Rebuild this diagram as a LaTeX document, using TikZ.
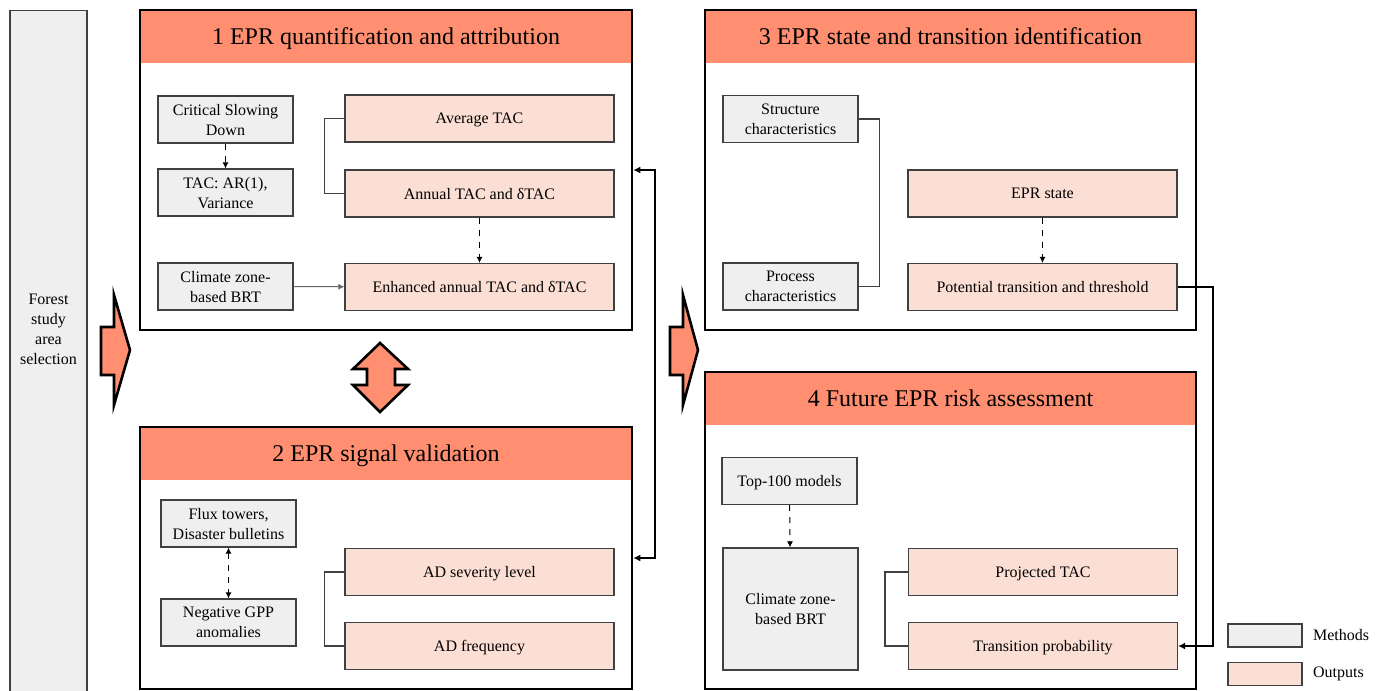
\documentclass[tikz,border=0pt]{standalone}
\usepackage{fontspec}
\setmainfont{Liberation Serif}
\usetikzlibrary{arrows.meta,calc,positioning}

\definecolor{bandsalmon}{RGB}{255,143,112}
\definecolor{outpink}{RGB}{252,223,212}
\definecolor{methgray}{RGB}{239,239,239}
\definecolor{boxline}{RGB}{64,64,64}

\tikzset{
  boxfont/.style={font=\fontsize{8}{10}\selectfont},
  method/.style={draw=boxline,fill=methgray,line width=0.6pt,align=center,boxfont,
    minimum width=67.5pt,minimum height=23.5pt,inner sep=1pt,text depth=0pt},
  outbox/.style={draw=boxline,fill=outpink,line width=0.6pt,align=center,boxfont,
    minimum width=134.5pt,minimum height=23.5pt,inner sep=1pt,text depth=0pt},
  band/.style={fill=bandsalmon,minimum width=245pt,minimum height=26.5pt,inner sep=0pt,
    text depth=0pt,font=\fontsize{12}{14}\selectfont},
  panel/.style={draw=black,line width=1.3pt},
  dasharrow/.style={draw=black,dashed,line width=0.5pt,-{Latex[length=3pt,width=3pt]}},
  thinarrow/.style={draw=black!60,line width=0.5pt,-{Latex[length=3pt,width=3pt]}},
  bracket/.style={draw=boxline,line width=0.7pt},
  linkarrow/.style={draw=black,line width=1pt,-{Latex[length=3.5pt,width=3.5pt]}},
  blockarrow/.style={fill=bandsalmon,draw=black,line width=1.3pt,line join=miter}
}

\begin{document}
\begin{tikzpicture}[x=0.5pt,y=-0.5pt]
  \clip (0,0) rectangle (1382,691);

  % left bar
  \node[draw=boxline,fill=methgray,line width=0.6pt,minimum width=38.5pt,
    minimum height=345pt,anchor=north] (bar) at (48.5,10) {};
  \node[align=center,boxfont] (forest) at (48.5,329) {Forest\\study\\area\\selection};

  % block arrows
  \draw[blockarrow] (101,327) -- (114,327) -- (114,295) -- (130,350) -- (114,405)
    -- (114,375) -- (101,375) -- cycle;
  \draw[blockarrow] (670,327) -- (683,327) -- (683,295) -- (698,350) -- (683,405)
    -- (683,375) -- (670,375) -- cycle;
  \draw[blockarrow] (380,343) -- (408,369) -- (395,369) -- (395,385) -- (408,385)
    -- (380,412) -- (353,385) -- (367,385) -- (367,369) -- (353,369) -- cycle;

  % title bands
  \node[band] (t1) at (386,36.5) {1 EPR quantification and attribution};
  \node[band] (t2) at (386,453) {2 EPR signal validation};
  \node[band] (t3) at (950.5,36.5) {3 EPR state and transition identification};
  \node[band] (t4) at (950.5,398.5) {4 Future EPR risk assessment};

  % panels
  \node[panel,minimum width=246pt,minimum height=160pt] (p1) at (386,170) {};
  \node[panel,minimum width=246pt,minimum height=131pt] (p2) at (386,558) {};
  \node[panel,minimum width=245.5pt,minimum height=160pt] (p3) at (950.5,170) {};
  \node[panel,minimum width=245.5pt,minimum height=158.5pt] (p4) at (950.5,530.5) {};

  % 1 quantification and attribution
  \node[method] (csd) at (225.5,119.5) {Critical Slowing\\Down};
  \node[method] (tac) at (225.5,192.5) {TAC: AR(1),\\Variance};
  \node[method] (czb) at (225.5,286.5) {Climate zone-\\based BRT};
  \node[outbox] (avg) at (479.5,118.5) {Average TAC};
  \node[outbox] (annual) at (479.5,193.5) {Annual TAC and δTAC};
  \node[outbox] (enhanced) at (479.5,287) {Enhanced annual TAC and δTAC};
  \draw[dasharrow] (csd) -- (tac);
  \draw[dasharrow] (annual) -- (enhanced);
  \draw[thinarrow] (czb) -- (enhanced);
  \draw[bracket] (avg.west) -- ++(-20,0) |- (annual.west);

  % 2 signal validation
  \node[method] (flux) at (228.5,523.5) {Flux towers,\\Disaster bulletins};
  \node[method] (ngpp) at (228.5,622.5) {Negative GPP\\anomalies};
  \node[outbox] (ads) at (479.5,572) {AD severity level};
  \node[outbox] (adf) at (479.5,646) {AD frequency};
  \draw[dasharrow,{Latex[length=3pt,width=3pt]}-{Latex[length=3pt,width=3pt]}] (flux) -- (ngpp);
  \draw[bracket] (ads.west) -- ++(-20,0) |- (adf.west);

  % 3 state and transition
  \node[method] (struct) at (790.5,119) {Structure\\characteristics};
  \node[method] (process) at (790.5,286.5) {Process\\characteristics};
  \node[outbox] (eprs) at (1042.5,193.5) {EPR state};
  \node[outbox] (potential) at (1042.5,287) {Potential transition and threshold};
  \draw[bracket] (struct.east) -- ++(21,0) |- (process.east);
  \draw[dasharrow] (eprs) -- (potential);

  % 4 future risk
  \node[method] (top100) at (789.5,481) {Top-100 models};
  \node[method,minimum height=61pt] (czb2) at (790.5,609) {Climate zone-\\based BRT};
  \node[outbox] (projected) at (1043,572) {Projected TAC};
  \node[outbox] (tprob) at (1043,646) {Transition probability};
  \draw[dasharrow] (top100) -- (czb2);
  \draw[bracket] (projected.west) -- ++(-23,0) |- (tprob.west);

  % links between panels
  \draw[linkarrow,{Latex[length=3.5pt,width=3.5pt]}-{Latex[length=3.5pt,width=3.5pt]}]
    (p1.east) -- ++(22,0) |- (p2.east);
  \draw[linkarrow] (potential.east) -- ++(35,0) |- (tprob.east);

  % legend
  \node[method,minimum width=37pt,minimum height=11.5pt] (legm) at (1265,635.5) {};
  \node[outbox,minimum width=37pt,minimum height=11.5pt] (lego) at (1265,674) {};
  \node[boxfont,anchor=west] (legmt) at (1306,635.5) {Methods};
  \node[boxfont,anchor=west] (legot) at (1306,674) {Outputs};
\end{tikzpicture}
\end{document}
